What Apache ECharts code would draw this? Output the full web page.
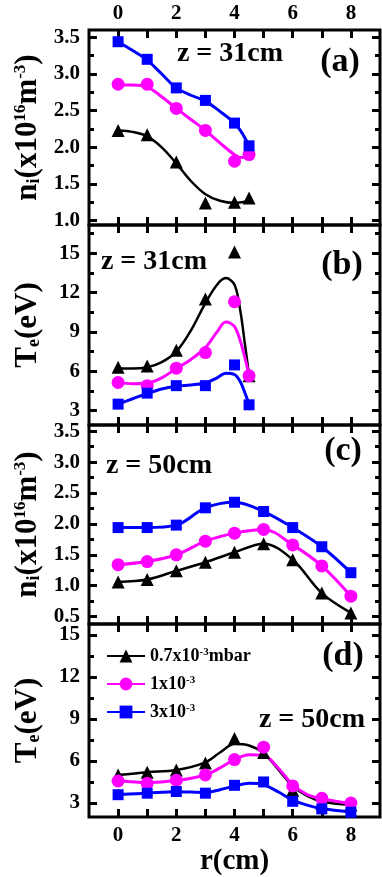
<!DOCTYPE html>
<html>
<head>
<meta charset="utf-8">
<script src="https://cdn.jsdelivr.net/npm/echarts@6/dist/echarts.min.js"></script>
<style>
html, body { margin: 0; padding: 0; background: #fff; }
#box { width: 382px; height: 877px; }
</style>
</head>
<body>
<div id="box"></div>
<script>
// radial positions r (cm)
const rShort = [0, 1, 2, 3, 4, 4.5];
const rLong = [0, 1, 2, 3, 4, 5, 6, 7, 8];

// legend names (pressure)
const names = ['0.7x10-3mbar', '1x10-3', '3x10-3'];

// (a) n_i, z = 31cm : measured points
const aLow = [2.23, 2.17, 1.80, 1.24, 1.25, 1.31];
const aMid = [2.86, 2.86, 2.53, 2.23, 1.81, 1.90];
const aHigh = [3.44, 3.20, 2.81, 2.64, 2.33, 2.02];
// (a) fitted curves
const aFitX = [0, 0.5, 1, 1.5, 2, 2.5, 3, 3.5, 4, 4.25, 4.5];
const aFitLow = [2.23, 2.21, 2.15, 2.0, 1.78, 1.54, 1.36, 1.27, 1.24, 1.25, 1.27];
const aFitMid = [2.85, 2.85, 2.82, 2.69, 2.53, 2.38, 2.23, 2.06, 1.90, 1.86, 1.89];
const aFitHigh = [3.44, 3.32, 3.19, 3.0, 2.81, 2.71, 2.63, 2.49, 2.33, 2.2, 2.02];

// (b) T_e, z = 31cm
const bLow = [6.3, 6.4, 7.6, 11.5, 15.1, 5.65];
const bMid = [5.14, 4.9, 6.23, 7.42, 11.3, 5.65];
const bHigh = [3.49, 4.33, 4.9, 4.9, 6.48, 3.44];
const bFitX = [0, 0.5, 1, 1.5, 2, 2.5, 3, 3.4, 3.7, 4.0, 4.2, 4.35, 4.5];
const bFitLow = [6.2, 6.2, 6.3, 6.7, 7.5, 9.1, 11.2, 12.6, 13.1, 12.6, 10.6, 8.2, 5.7];
const bFitMid = [5.15, 5.05, 5.1, 5.5, 6.2, 6.9, 7.8, 9.0, 9.75, 9.4, 8.3, 7.1, 5.7];
const bFitHigh = [3.5, 3.9, 4.3, 4.65, 4.85, 4.95, 5.1, 5.5, 5.85, 5.75, 5.2, 4.4, 3.5];

// (c) n_i, z = 50cm
const cLow = [1.06, 1.10, 1.24, 1.38, 1.54, 1.68, 1.42, 0.88, 0.56];
const cMid = [1.34, 1.39, 1.50, 1.72, 1.85, 1.91, 1.66, 1.32, 0.83];
const cHigh = [1.94, 1.94, 1.98, 2.26, 2.35, 2.20, 1.94, 1.63, 1.21];

// (d) T_e, z = 50cm
const dLow = [5.0, 5.2, 5.35, 5.85, 7.6, 6.6, 3.9, 2.95, 2.85];
const dMid = [4.57, 4.4, 4.62, 5.0, 6.1, 6.98, 4.22, 3.33, 3.0];
const dHigh = [3.59, 3.7, 3.82, 3.7, 4.26, 4.5, 3.12, 2.58, 2.34];
const dFitX = [0, 1, 2, 3, 3.5, 4, 4.5, 5, 5.5, 6, 6.5, 7, 8];
const dFitLow = [5.0, 5.2, 5.35, 5.9, 6.6, 7.2, 7.1, 6.55, 5.4, 4.2, 3.5, 3.1, 2.85];
const dFitMid = [4.6, 4.45, 4.6, 5.0, 5.5, 6.1, 6.45, 6.4, 5.5, 4.3, 3.6, 3.3, 2.95];
const dFitHigh = [3.6, 3.7, 3.8, 3.75, 3.95, 4.2, 4.4, 4.3, 3.8, 3.2, 2.85, 2.6, 2.35];

// tick values
const xTicks = [0, 1, 2, 3, 4, 5, 6, 7, 8];
const xLabels = [0, 2, 4, 6, 8];
const nMajorA = [1.0, 1.5, 2.0, 2.5, 3.0, 3.5];
const nMinorA = [1.25, 1.75, 2.25, 2.75, 3.25];
const nMajorC = [0.5, 1.0, 1.5, 2.0, 2.5, 3.0, 3.5];
const nMinorC = [0.75, 1.25, 1.75, 2.25, 2.75, 3.25];
const tMajor = [3, 6, 9, 12, 15];
const tMinorB = [4.5, 7.5, 10.5, 13.5, 16.5];
const tMinorD = [4.5, 7.5, 10.5, 13.5];

const FONT = 'Liberation Serif';
const colors = ['#000000', '#ff00ff', '#0000ff'];
const symbols = ['triangle', 'circle', 'rect'];
const symbolSizes = [13, 13, 11];

const nName = '{m|n}{s|i}{m|(x10}{p|16}{m|m}{p|-3}{m|)}';
const tName = '{m|T}{s|e}{m|(eV)}';

const zip = (xs, ys) => xs.map((x, i) => [x, ys[i]]);

// 每个面板的设置
const panels = [
    { top: 30, height: 195, min: 0.94, max: 3.6, major: nMajorA, minor: nMinorA, digits: 1, name: nName,
      r: rShort, pts: [aLow, aMid, aHigh], fitX: aFitX, fits: [aFitLow, aFitMid, aFitHigh] },
    { top: 225, height: 200, min: 1.9, max: 17.15, major: tMajor, minor: tMinorB, digits: 0, name: tName,
      r: rShort, pts: [bLow, bMid, bHigh], fitX: bFitX, fits: [bFitLow, bFitMid, bFitHigh] },
    { top: 425, height: 199, min: 0.38, max: 3.6, major: nMajorC, minor: nMinorC, digits: 1, name: nName,
      r: rLong, pts: [cLow, cMid, cHigh], fitX: rLong, fits: [cLow, cMid, cHigh] },
    { top: 624, height: 196, min: 2.0, max: 15.77, major: tMajor, minor: tMinorD, digits: 0, name: tName,
      r: rLong, pts: [dLow, dMid, dHigh], fitX: dFitX, fits: [dFitLow, dFitMid, dFitHigh] }
];

const labelFont = { fontFamily: FONT, fontWeight: 'bold', fontSize: 21, color: '#000' };
const tickStyle = { color: '#000', width: 3 };

const grid = [], xAxis = [], yAxis = [], series = [];

panels.forEach((p, i) => {
    grid.push({ left: 84, width: 296, top: p.top, height: p.height, show: true,
        borderColor: '#000', borderWidth: 3, backgroundColor: 'transparent' });

    ['bottom', 'top'].forEach(pos => {
        const showLabel = (pos === 'bottom' && i === 3) || (pos === 'top' && i === 0);
        xAxis.push({
            gridIndex: i, type: 'value', position: pos, min: -1, max: 9,
            axisLine: { show: false, onZero: false }, splitLine: { show: false },
            axisTick: { inside: true, length: 8, lineStyle: tickStyle, customValues: xTicks },
            axisLabel: Object.assign({ show: showLabel, customValues: xLabels, margin: pos === 'top' ? 6 : 8 }, labelFont),
            name: (pos === 'bottom' && i === 3) ? 'r(cm)' : '',
            nameLocation: 'middle', nameGap: 30, nameMoveOverlap: false,
            nameTextStyle: { fontFamily: FONT, fontWeight: 'bold', fontSize: 29, color: '#000' }
        });
    });

    ['left', 'right'].forEach(pos => {
        // major ticks
        yAxis.push({
            gridIndex: i, type: 'value', position: pos, min: p.min, max: p.max,
            axisLine: { show: false, onZero: false }, splitLine: { show: false },
            axisTick: { inside: true, length: 8, lineStyle: tickStyle, customValues: p.major },
            axisLabel: Object.assign({ show: pos === 'left', customValues: p.major, margin: 9,
                formatter: v => Number(v).toFixed(p.digits) }, labelFont),
            name: pos === 'left' ? p.name : '',
            nameLocation: 'middle', nameGap: 46, nameMoveOverlap: false,
            nameTextStyle: {
                color: '#000',
                rich: {
                    m: { fontFamily: FONT, fontWeight: 'bold', fontSize: 31, lineHeight: 31, color: '#000' },
                    s: { fontFamily: FONT, fontWeight: 'bold', fontSize: 18, lineHeight: 18, padding: [17, 0, 0, 0], verticalAlign: 'bottom', color: '#000' },
                    p: { fontFamily: FONT, fontWeight: 'bold', fontSize: 17, lineHeight: 17, verticalAlign: 'top', color: '#000' }
                }
            }
        });
        // minor ticks
        yAxis.push({
            gridIndex: i, type: 'value', position: pos, min: p.min, max: p.max,
            axisLine: { show: false, onZero: false }, splitLine: { show: false },
            axisTick: { inside: true, length: 5, lineStyle: tickStyle, customValues: p.minor },
            axisLabel: { show: false }
        });
    });

    for (let k = 0; k < 3; k++) {
        // 拟合曲线
        series.push({
            type: 'line', xAxisIndex: 2 * i, yAxisIndex: 4 * i, silent: true,
            data: zip(p.fitX, p.fits[k]), smooth: 0.35, symbol: 'none',
            lineStyle: { color: colors[k], width: k === 0 ? 2.5 : 3 }, z: 2
        });
        // 数据点
        series.push({
            type: 'scatter', xAxisIndex: 2 * i, yAxisIndex: 4 * i, silent: true,
            data: zip(p.r, p.pts[k]), symbol: symbols[k], symbolSize: symbolSizes[k],
            itemStyle: { color: colors[k], opacity: 1 }, z: 3
        });
    }
});

// legend-only series in panel (d)
names.forEach((n, k) => {
    series.push({
        name: n, type: 'line', xAxisIndex: 6, yAxisIndex: 12, data: [],
        symbol: symbols[k], symbolSize: symbolSizes[k],
        itemStyle: { color: colors[k] }, lineStyle: { color: colors[k], width: 3 }
    });
});

const legendText = {
    '0.7x10-3mbar': '{t|0.7x10}{p|-3}{t|mbar}',
    '1x10-3': '{t|1x10}{p|-3}',
    '3x10-3': '{t|3x10}{p|-3}'
};

const txt = (text, x, y, size) => ({
    type: 'text', x: x, y: y,
    style: { text: text, fontFamily: FONT, fontWeight: 'bold', fontSize: size, fill: '#000',
        align: 'center', verticalAlign: 'middle' }
});

const option = {
    animation: false,
    backgroundColor: '#fff',
    textStyle: { fontFamily: FONT },
    grid: grid,
    xAxis: xAxis,
    yAxis: yAxis,
    series: series,
    legend: {
        data: names, orient: 'vertical', left: 106, top: 647, padding: 0,
        itemWidth: 38, itemHeight: 16, itemGap: 10, selectedMode: false,
        formatter: n => legendText[n],
        textStyle: {
            color: '#000',
            rich: {
                t: { fontFamily: FONT, fontWeight: 'bold', fontSize: 18, color: '#000' },
                p: { fontFamily: FONT, fontWeight: 'bold', fontSize: 11, verticalAlign: 'top', color: '#000' }
            }
        }
    },
    graphic: [
        txt('z = 31cm', 230, 54, 28), txt('(a)', 340, 62, 34),
        txt('z = 31cm', 154, 262, 28), txt('(b)', 342, 265, 34),
        txt('z = 50cm', 159, 466, 28), txt('(c)', 343, 451, 34),
        txt('z = 50cm', 312, 720, 28), txt('(d)', 343, 656, 34)
    ]
};

var myChart = echarts.init(document.getElementById('box'));
myChart.setOption(option);
</script>
</body>
</html>
